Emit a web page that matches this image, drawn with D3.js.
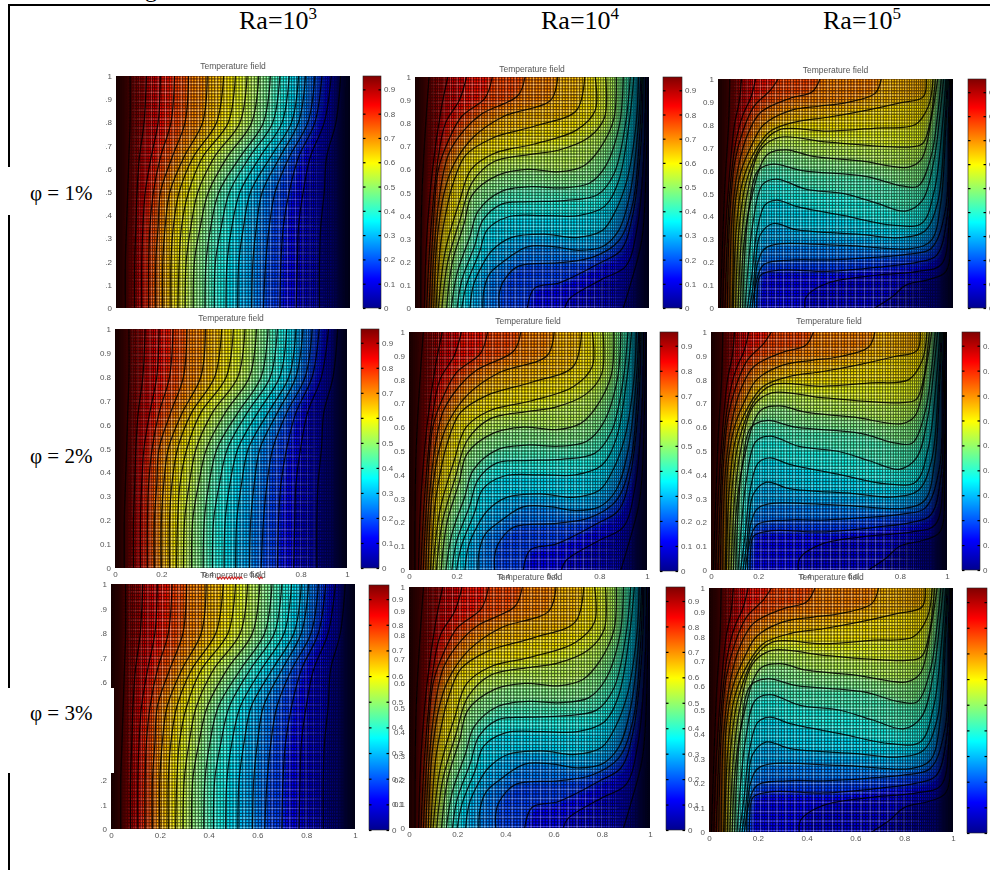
<!DOCTYPE html>
<html>
<head>
<meta charset="utf-8">
<script src="https://cdn.jsdelivr.net/npm/d3@7"></script>
<style>
  html, body { margin: 0; padding: 0; background: #fff; overflow: hidden; }
  svg { display: block; }
  .tick-text text, .title { font-family: "Liberation Sans", sans-serif; fill: #555; }
  .serif { font-family: "Liberation Serif", serif; fill: #000; }
</style>
</head>
<body>
<svg id="chart" width="990" height="870"></svg>
<script>
const raLabels = ['3', '4', '5'];
const phiLabels = ['φ = 1%', 'φ = 2%', 'φ = 3%'];
const axisTicks = [0, 0.1, 0.2, 0.3, 0.4, 0.5, 0.6, 0.7, 0.8, 0.9, 1];
const xAxisTicks = [0, 0.2, 0.4, 0.6, 0.8, 1];
const barTicks = [0, 0.1, 0.2, 0.3, 0.4, 0.5, 0.6, 0.7, 0.8, 0.9];
const barMax = 0.955;
const jetStops = [0, 0.125, 0.375, 0.625, 0.875, 1];
const jetColors = ['#00008f', '#0000ff', '#00ffff', '#ffff00', '#ff0000', '#800000'];

// isotherm levels, hot to cold; each isotherm runs wall bottom -> wall top as [x, y]
const levels = [0.95, 0.9, 0.85, 0.8, 0.75, 0.7, 0.65, 0.6, 0.55, 0.5, 0.45, 0.4, 0.35, 0.3, 0.25, 0.2, 0.15, 0.1, 0.05];

const ra3Heights = [0, 0.2, 0.35, 0.5, 0.65, 0.8, 1];
const ra3Rows = [
  [.04, .04, .045, .05, .055, .06, .06],
  [.08, .08, .085, .09, .10, .12, .13],
  [.11, .11, .115, .125, .15, .18, .19],
  [.14, .14, .145, .16, .19, .235, .25],
  [.17, .17, .18, .19, .24, .295, .31],
  [.20, .20, .21, .23, .29, .37, .39],
  [.235, .235, .245, .27, .33, .43, .46],
  [.265, .27, .28, .31, .37, .48, .51],
  [.295, .30, .32, .35, .42, .53, .56],
  [.33, .335, .36, .395, .475, .58, .61],
  [.38, .385, .405, .44, .53, .63, .66],
  [.42, .425, .45, .485, .57, .67, .70],
  [.47, .475, .495, .53, .615, .71, .74],
  [.52, .525, .545, .575, .66, .75, .78],
  [.58, .585, .60, .625, .70, .78, .81],
  [.63, .64, .655, .68, .74, .82, .85],
  [.70, .705, .715, .74, .78, .85, .88],
  [.77, .775, .78, .80, .83, .89, .92],
  [.87, .87, .875, .89, .90, .94, .96],
];

const ra4Isotherms = [
  [[.025,0],[.03,.5],[.06,1]],
  [[.04,0],[.05,.3],[.075,.6],[.11,.85],[.14,1]],
  [[.05,0],[.065,.3],[.095,.62],[.13,.8],[.19,.9],[.22,1]],
  [[.06,0],[.075,.3],[.10,.6],[.145,.73],[.2,.83],[.30,.91],[.33,1]],
  [[.07,0],[.085,.3],[.115,.55],[.145,.67],[.21,.77],[.285,.84],[.44,.92],[.47,1]],
  [[.08,0],[.095,.3],[.125,.5],[.165,.62],[.25,.74],[.38,.83],[.58,.9],[.61,1]],
  [[.09,0],[.11,.28],[.14,.45],[.16,.53],[.215,.66],[.33,.735],[.52,.79],[.69,.855],[.725,1]],
  [[.10,0],[.13,.25],[.19,.46],[.24,.6],[.34,.67],[.51,.71],[.69,.77],[.77,.855],[.77,1]],
  [[.115,0],[.14,.2],[.195,.39],[.245,.545],[.34,.635],[.495,.665],[.62,.685],[.745,.74],[.81,.825],[.815,1]],
  [[.135,0],[.16,.2],[.21,.365],[.245,.49],[.355,.575],[.48,.60],[.62,.59],[.72,.615],[.79,.69],[.85,.82],[.86,1]],
  [[.155,0],[.18,.15],[.235,.31],[.27,.42],[.37,.505],[.495,.525],[.63,.52],[.745,.54],[.815,.615],[.875,.8],[.89,1]],
  [[.18,0],[.20,.12],[.255,.27],[.29,.38],[.37,.45],[.49,.46],[.64,.465],[.78,.49],[.85,.58],[.90,.8],[.92,1]],
  [[.20,0],[.22,.1],[.275,.24],[.31,.34],[.40,.395],[.55,.40],[.70,.40],[.81,.44],[.87,.55],[.915,.8],[.935,1]],
  [[.235,0],[.25,.1],[.29,.19],[.33,.25],[.41,.305],[.55,.32],[.69,.305],[.80,.335],[.857,.42],[.905,.55],[.945,.8],[.955,1]],
  [[.29,0],[.295,.08],[.32,.15],[.37,.195],[.48,.265],[.59,.266],[.70,.25],[.80,.265],[.87,.335],[.92,.5],[.955,.8],[.965,1]],
  [[.36,0],[.36,.06],[.375,.11],[.44,.18],[.62,.196],[.76,.22],[.87,.29],[.93,.45],[.96,.75],[.97,1]],
  [[.48,0],[.51,.085],[.62,.11],[.79,.195],[.88,.25],[.93,.4],[.965,.7],[.975,1]],
  [[.64,0],[.66,.04],[.8,.125],[.9,.18],[.95,.35],[.98,.7],[.985,1]],
  [[.89,0],[.92,.1],[.97,.3],[.99,.7],[.995,1]],
];

const ra5Isotherms = [
  [[.01,0],[.03,.55],[.045,.8],[.05,1]],
  [[.02,0],[.03,.3],[.05,.6],[.07,.8],[.09,.9],[.10,1]],
  [[.03,0],[.05,.5],[.075,.72],[.105,.84],[.14,.92],[.16,1]],
  [[.04,0],[.05,.4],[.071,.635],[.105,.77],[.153,.88],[.222,.95],[.256,1]],
  [[.05,0],[.06,.4],[.085,.607],[.126,.758],[.181,.854],[.304,.915],[.40,.943],[.434,1]],
  [[.06,0],[.064,.157],[.071,.432],[.098,.596],[.146,.717],[.194,.8],[.304,.861],[.427,.881],[.537,.895],[.667,.936],[.695,1]],
  [[.065,0],[.078,.348],[.105,.553],[.16,.69],[.222,.772],[.332,.813],[.468,.833],[.619,.861],[.77,.895],[.873,.922],[.886,1]],
  [[.075,0],[.09,.35],[.12,.55],[.19,.72],[.263,.779],[.468,.772],[.674,.786],[.838,.8],[.895,.88],[.915,1]],
  [[.085,0],[.10,.3],[.125,.5],[.18,.69],[.26,.745],[.47,.724],[.81,.703],[.87,.717],[.90,.8],[.925,1]],
  [[.095,0],[.11,.28],[.14,.47],[.21,.67],[.29,.69],[.40,.663],[.607,.642],[.81,.615],[.866,.65],[.91,.84],[.935,1]],
  [[.105,0],[.115,.25],[.13,.42],[.17,.6],[.236,.628],[.359,.60],[.633,.574],[.783,.533],[.852,.533],[.907,.663],[.934,.84],[.95,1]],
  [[.115,0],[.13,.2],[.15,.38],[.19,.54],[.249,.563],[.373,.519],[.537,.499],[.674,.458],[.797,.423],[.87,.47],[.92,.65],[.945,.85],[.96,1]],
  [[.125,0],[.145,.15],[.165,.33],[.20,.45],[.249,.471],[.332,.444],[.537,.403],[.742,.362],[.866,.369],[.92,.51],[.955,.8],[.97,1]],
  [[.135,0],[.15,.1],[.16,.2],[.18,.32],[.236,.369],[.332,.342],[.605,.321],[.77,.307],[.879,.335],[.934,.458],[.965,.8],[.975,1]],
  [[.145,0],[.155,.08],[.17,.2],[.208,.266],[.537,.273],[.825,.26],[.907,.294],[.948,.458],[.97,.8],[.98,1]],
  [[.155,0],[.16,.1],[.195,.19],[.32,.21],[.47,.21],[.65,.22],[.81,.235],[.907,.26],[.968,.43],[.98,.8],[.985,1]],
  [[.165,0],[.167,.061],[.181,.143],[.26,.165],[.47,.16],[.7,.18],[.85,.2],[.93,.23],[.975,.4],[.985,.8],[.99,1]],
  [[.37,0],[.375,.048],[.468,.109],[.674,.143],[.852,.16],[.95,.19],[.985,.4],[.99,.8],[.993,1]],
  [[.667,0],[.74,.048],[.80,.10],[.90,.125],[.97,.16],[.99,.4],[.995,.8],[.997,1]],
];

const ra3Isotherms = ra3Rows.map(row => row.map((x, i) => [x, ra3Heights[i]]));
const isothermsByRa = [ra3Isotherms, ra4Isotherms, ra5Isotherms];

// layout, one row per φ
const panelBoxes = [
  [
    { x0: 116, x1: 350, y0: 76, y1: 308, bx0: 363, bx1: 381, by0: 76, by1: 308, titleY: 66 },
    { x0: 415, x1: 649, y0: 77, y1: 308, bx0: 663, bx1: 682, by0: 77, by1: 308, titleY: 69 },
    { x0: 718, x1: 953, y0: 79, y1: 308, bx0: 968, bx1: 986, by0: 79, by1: 308, titleY: 70 },
  ],
  [
    { x0: 115, x1: 347, y0: 329, y1: 568, bx0: 361, bx1: 379, by0: 329, by1: 568, titleY: 318 },
    { x0: 409, x1: 647, y0: 332, y1: 570, bx0: 660, bx1: 678, by0: 332, by1: 571, titleY: 321 },
    { x0: 711, x1: 947, y0: 332, y1: 570, bx0: 962, bx1: 980, by0: 332, by1: 570, titleY: 321 },
  ],
  [
    { x0: 111, x1: 355, y0: 584, y1: 829, bx0: 369, bx1: 389, by0: 585, by1: 830, titleY: 575 },
    { x0: 409, x1: 650, y0: 587, y1: 828, bx0: 666, bx1: 685, by0: 587, by1: 830, titleY: 577 },
    { x0: 709, x1: 953, y0: 588, y1: 832, bx0: 967, bx1: 987, by0: 588, by1: 833, titleY: 577 },
  ],
];
const raHeadX = [239, 541, 823];
const phiBaseY = [200, 463, 720];

const svg = d3.select('#chart');
const defs = svg.append('defs');

const jet = d3.scaleLinear().domain(jetStops.map(s => s * barMax)).range(jetColors).clamp(true);

// ---- shared defs ----
function addBlur(id, dev) {
  defs.append('filter').attr('id', id)
    .attr('x', '-5%').attr('y', '-5%').attr('width', '110%').attr('height', '110%')
    .append('feGaussianBlur').attr('stdDeviation', dev);
}
addBlur('fieldBlur', 3);
addBlur('softBlur', 0.45);
addBlur('textBlur', 0.35);

const barGrad = defs.append('linearGradient').attr('id', 'jetBar')
  .attr('x1', 0).attr('y1', 1).attr('x2', 0).attr('y2', 0);
jetStops.forEach((s, i) => barGrad.append('stop').attr('offset', s).attr('stop-color', jetColors[i]));

const lightFade = defs.append('linearGradient').attr('id', 'lightFade');
[[0.05, 0], [0.2, 0.3], [0.72, 0.3], [0.9, 0]].forEach(([o, a]) => {
  lightFade.append('stop').attr('offset', o).attr('stop-color', '#fff').attr('stop-opacity', a);
});

const wallShade = defs.append('linearGradient').attr('id', 'wallShade');
[[0, 0.55], [0.05, 0], [0.93, 0], [1, 0.7]].forEach(([o, a]) => {
  wallShade.append('stop').attr('offset', o).attr('stop-color', '#000').attr('stop-opacity', a);
});

// ---- mesh: columns crowd against the side walls, rows stay even ----
const meshCells = 120;
const rowCells = 78;
const colAt = d3.range(meshCells + 1).map(i => (1 - Math.cos(Math.PI * i / meshCells)) / 2);
const colMid = d3.pairs(colAt).map(([a, b]) => (a + b) / 2);
const rowAt = d3.range(rowCells + 1).map(i => i / rowCells);
const rowMid = d3.pairs(rowAt).map(([a, b]) => (a + b) / 2);
const everyThird = (d, i) => i % 3 === 0;

function meshPath(x, y, cols, rows) {
  let p = '';
  cols.forEach(v => { p += `M${x(v)},${y(0)}V${y(1)}`; });
  rows.forEach(v => { p += `M${x(0)},${y(v)}H${x(1)}`; });
  return p;
}

const tickFormat = d => (d === 0 || d === 1 ? String(d) : d.toFixed(1));

function styleAxis(g) {
  g.select('.domain').remove();
  g.attr('class', 'tick-text').attr('filter', 'url(#textBlur)');
  g.selectAll('text').attr('font-size', 8).attr('fill', '#555');
  g.selectAll('line').attr('stroke', '#000').attr('stroke-width', 1.2);
}

// ---- one temperature field panel ----
function drawPanel(box, isotherms, id, showX) {
  const x = d3.scaleLinear().domain([0, 1]).range([box.x0, box.x1]);
  const y = d3.scaleLinear().domain([0, 1]).range([box.y1, box.y0]);

  defs.append('clipPath').attr('id', id)
    .append('rect')
    .attr('x', box.x0).attr('y', box.y0)
    .attr('width', box.x1 - box.x0).attr('height', box.y1 - box.y0);

  const g = svg.append('g');
  const body = g.append('g').attr('clip-path', `url(#${id})`).append('g')
    .attr('filter', 'url(#softBlur)');

  const line = d3.line().x(d => x(d[0])).y(d => y(d[1])).curve(d3.curveCatmullRom.alpha(0.5));
  const pad = 30;

  // painted hot to cold, each polygon closes round the cold wall
  const fields = body.append('g').attr('filter', 'url(#fieldBlur)');
  fields.append('rect')
    .attr('x', box.x0 - pad).attr('y', box.y0 - pad)
    .attr('width', box.x1 - box.x0 + 2 * pad).attr('height', box.y1 - box.y0 + 2 * pad)
    .attr('fill', jet(0.955));
  fields.selectAll('path').data(isotherms).join('path')
    .attr('fill', (d, i) => jet(levels[i] - 0.025))
    .attr('d', d => {
      const a = d[0];
      const b = d[d.length - 1];
      return line(d) + `L${x(b[0])},${box.y0 - pad}L${box.x1 + pad},${box.y0 - pad}` +
        `L${box.x1 + pad},${box.y1 + pad}L${x(a[0])},${box.y1 + pad}Z`;
    });

  body.append('path').attr('d', meshPath(x, y, colAt, rowAt))
    .attr('fill', 'none').attr('stroke', '#000').attr('stroke-opacity', 0.62).attr('stroke-width', 1.3);
  body.append('path').attr('d', meshPath(x, y, colMid, rowMid))
    .attr('fill', 'none').attr('stroke', 'url(#lightFade)').attr('stroke-width', 0.8)
    .style('mix-blend-mode', 'overlay');
  body.append('path').attr('d', meshPath(x, y, colMid.filter(everyThird), rowMid.filter(everyThird)))
    .attr('fill', 'none').attr('stroke', 'url(#lightFade)').attr('stroke-width', 0.9);
  body.append('rect')
    .attr('x', box.x0).attr('y', box.y0)
    .attr('width', box.x1 - box.x0).attr('height', box.y1 - box.y0)
    .attr('fill', 'url(#wallShade)');

  body.append('g').selectAll('path').data(isotherms).join('path')
    .attr('d', line)
    .attr('fill', 'none').attr('stroke', '#000').attr('stroke-opacity', 0.85).attr('stroke-width', 1.25);

  // axes
  g.append('g').attr('transform', `translate(${box.x0},0)`)
    .call(d3.axisLeft(y).tickValues(axisTicks).tickFormat(tickFormat).tickSize(0).tickPadding(4))
    .call(styleAxis);
  if (showX) {
    g.append('g').attr('transform', `translate(0,${box.y1})`)
      .call(d3.axisBottom(x).tickValues(xAxisTicks).tickFormat(tickFormat).tickSize(0).tickPadding(3))
      .call(styleAxis);
  }
  g.append('text').attr('class', 'title')
    .attr('x', (box.x0 + box.x1) / 2).attr('y', box.titleY + 3)
    .attr('text-anchor', 'middle').attr('font-size', 8.5)
    .attr('filter', 'url(#textBlur)')
    .text('Temperature field');

  // colorbar
  const bar = d3.scaleLinear().domain([0, barMax]).range([box.by1, box.by0]);
  g.append('rect')
    .attr('x', box.bx0).attr('y', box.by0)
    .attr('width', box.bx1 - box.bx0).attr('height', box.by1 - box.by0)
    .attr('fill', 'url(#jetBar)').attr('stroke', '#222').attr('stroke-width', 0.6);
  g.append('g').attr('transform', `translate(${box.bx1},0)`)
    .call(d3.axisRight(bar).tickValues(barTicks).tickFormat(tickFormat).tickSize(-2.5).tickPadding(3))
    .call(styleAxis);
  g.append('g').attr('transform', `translate(${box.bx0},0)`)
    .call(d3.axisLeft(bar).tickValues(barTicks).tickFormat(() => '').tickSize(-2.5))
    .call(styleAxis);
}

phiLabels.forEach((phi, r) => {
  raLabels.forEach((ra, c) => {
    drawPanel(panelBoxes[r][c], isothermsByRa[c], `panel-${r}-${c}`, r > 0);
  });
});

// ---- frame of the pasted figure ----
svg.append('line').attr('x1', 9).attr('x2', 9).attr('y1', 4).attr('y2', 870)
  .attr('stroke', '#000').attr('stroke-width', 2);
svg.append('line').attr('x1', 8).attr('x2', 990).attr('y1', 5).attr('y2', 5)
  .attr('stroke', '#000').attr('stroke-width', 2);

// white patches of the document sitting over the tick labels
const patches = [
  { x: 96, y: 70, w: 9.5, h: 232 },
  { x: 7, y: 167, w: 98.5, h: 48 },
  { x: 88, y: 600, w: 12.5, h: 240 },
  { x: 7, y: 688, w: 107, h: 85 },
];
svg.selectAll('rect.patch').data(patches).join('rect')
  .attr('class', 'patch')
  .attr('x', d => d.x).attr('y', d => d.y).attr('width', d => d.w).attr('height', d => d.h)
  .attr('fill', '#fff');

// ---- headings ----
raLabels.forEach((ra, c) => {
  const t = svg.append('text').attr('class', 'serif')
    .attr('x', raHeadX[c]).attr('y', 29).attr('font-size', 26);
  t.append('tspan').text('Ra=10');
  t.append('tspan').attr('dy', -10).attr('font-size', 17).text(ra);
});
phiLabels.forEach((phi, r) => {
  svg.append('text').attr('class', 'serif')
    .attr('x', 30).attr('y', phiBaseY[r]).attr('font-size', 21).text(phi);
});
// descender of the cut-off caption above the frame
svg.append('text').attr('class', 'serif').attr('x', 145).attr('y', -3).attr('font-size', 24).text('g');

// spell-check squiggle under the overlapping title
const squiggle = d3.line().curve(d3.curveLinear);
[[217, 243], [258, 263]].forEach(([a, b]) => {
  svg.append('path')
    .attr('d', squiggle(d3.range(a, b + 1, 1.5).map((v, i) => [v, 578 + (i % 2 ? 1 : -1)])))
    .attr('fill', 'none').attr('stroke', '#d02020').attr('stroke-width', 1.1);
});
</script>
</body>
</html>
